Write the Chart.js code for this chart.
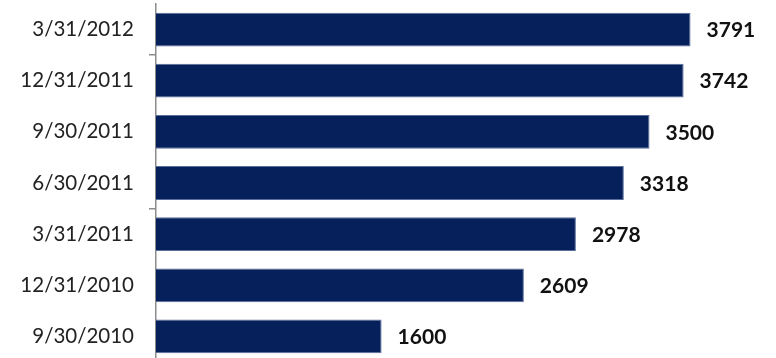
<!DOCTYPE html>
<html>
<head>
<meta charset="utf-8">
<script src="https://cdn.jsdelivr.net/npm/chart.js@4/dist/chart.umd.min.js"></script>
<style>
  html, body { margin: 0; padding: 0; background: #fff; overflow: hidden; }
  #wrap { width: 776px; height: 362px; }
</style>
</head>
<body>
<div id="wrap"><canvas id="chart"></canvas></div>
<script>
// quarter-end dates, newest first (top of the chart)
const quarters = ['3/31/2012', '12/31/2011', '9/30/2011', '6/30/2011', '3/31/2011', '12/31/2010', '9/30/2010'];
const counts = [3791, 3742, 3500, 3318, 2978, 2609, 1600];
// only these category boundaries get a tick mark on the axis
const markedBoundaries = [1, 4];

const barLabels = {
  id: 'barLabels',
  afterDatasetsDraw(chart) {
    const ctx = chart.ctx;
    const meta = chart.getDatasetMeta(0);
    ctx.save();
    ctx.font = 'bold 21px Lato';
    ctx.fillStyle = '#111';
    ctx.textAlign = 'left';
    ctx.textBaseline = 'middle';
    meta.data.forEach((bar, i) => {
      ctx.fillText(String(counts[i]), bar.x + 16, bar.y + 1);
    });
    ctx.restore();
  }
};

new Chart(document.getElementById('chart'), {
  type: 'bar',
  data: {
    labels: quarters,
    datasets: [{
      data: counts,
      backgroundColor: '#06205c',
      borderColor: '#5a6e9c',
      borderWidth: 1,
      categoryPercentage: 1,
      barPercentage: 0.66
    }]
  },
  options: {
    indexAxis: 'y',
    responsive: true,
    maintainAspectRatio: false,
    animation: false,
    layout: { padding: { top: 4, right: 56, bottom: 0, left: 0 } },
    scales: {
      x: {
        display: false,
        min: 0,
        max: 4000
      },
      y: {
        afterFit: scale => {
          scale.width = 156;
          scale.paddingTop = 0;
          scale.paddingBottom = 0;
        },
        border: { display: true, color: '#8c8c8c', width: 1.5 },
        grid: {
          offset: true,
          drawOnChartArea: false,
          tickLength: 7,
          color: c => markedBoundaries.includes(c.index) ? '#8c8c8c' : 'rgba(0,0,0,0)',
          lineWidth: 1.5
        },
        ticks: {
          padding: 15,
          color: '#222',
          font: { family: 'Lato', size: 20.5 }
        }
      }
    },
    plugins: {
      legend: { display: false },
      tooltip: { enabled: false }
    }
  },
  plugins: [barLabels]
});
</script>
</body>
</html>
